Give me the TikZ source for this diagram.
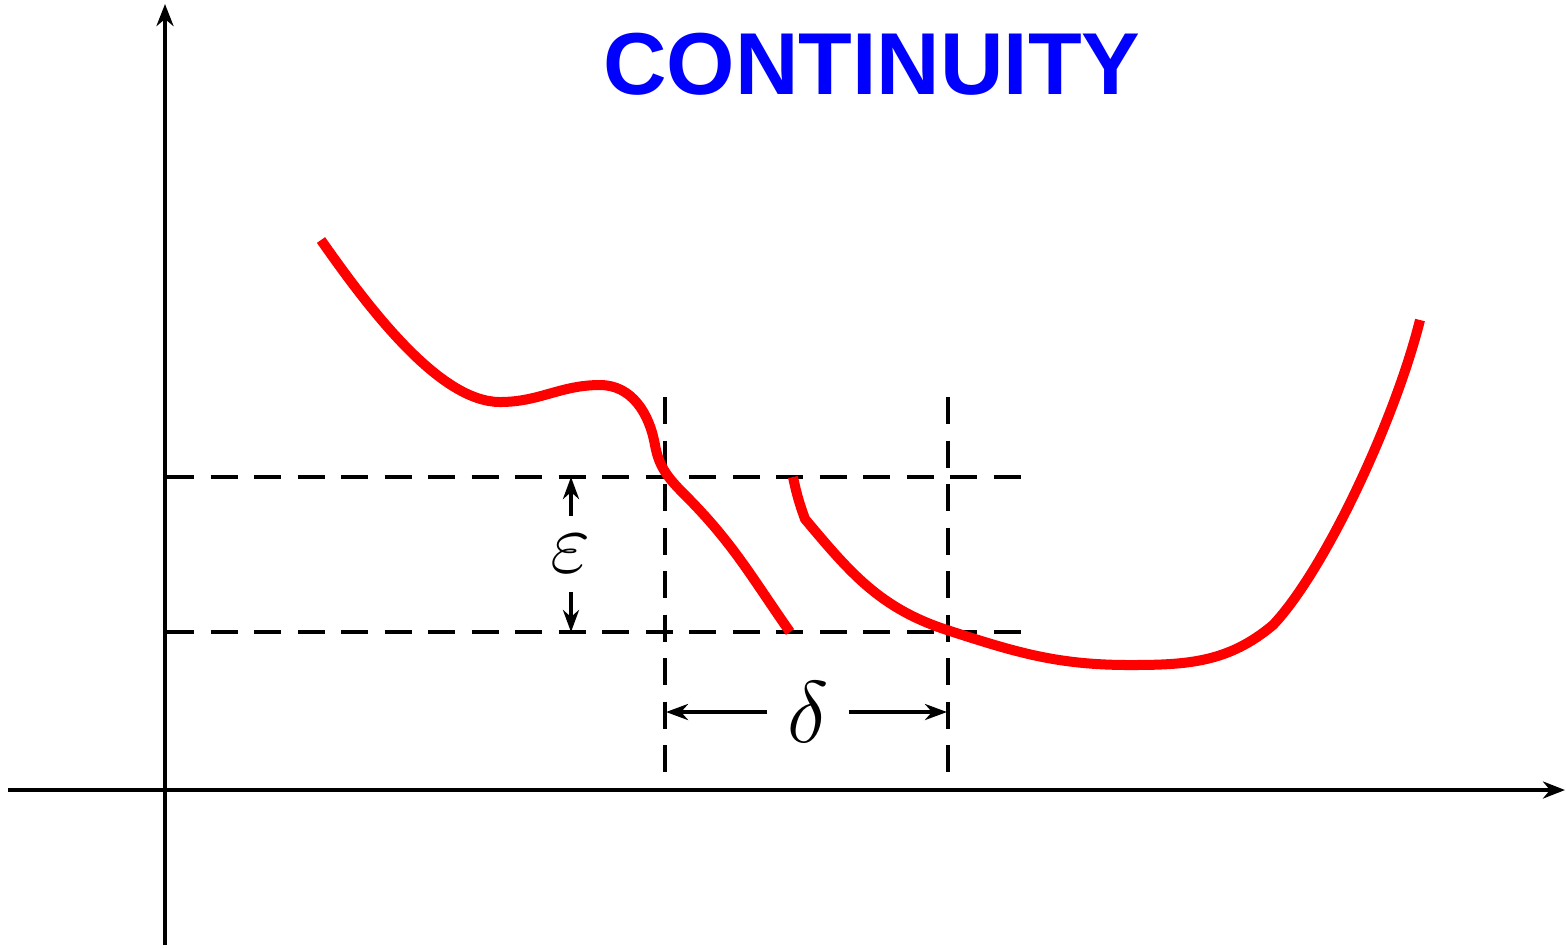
\documentclass[tikz,border=0pt]{standalone}
\usepackage{fontspec}
\newfontfamily\titlefont{Liberation Sans}
\usetikzlibrary{arrows.meta}
\tikzset{
  axis/.style={line width=0.038cm, -{Stealth[length=0.22cm,width=0.17cm,inset=0.07cm]}},
  dimarrow/.style={line width=0.038cm, -{Stealth[length=0.22cm,width=0.16cm,inset=0.07cm]}},
  guide/.style={line width=0.038cm, dash pattern=on 0.27cm off 0.165cm},
  curve/.style={red, line width=0.1cm, line cap=butt, line join=round},
  mathlabel/.style={inner sep=0pt, font=\fontsize{26}{30}\selectfont},
  titlelabel/.style={inner sep=0pt, anchor=base, text=blue, font=\titlefont\bfseries\fontsize{25}{30}\selectfont}
}
\begin{document}
\begin{tikzpicture}[x=0.01cm,y=-0.01cm]
\useasboundingbox (0,0) rectangle (1566,947);
% axes
\coordinate (yb) at (165,945);
\coordinate (yt) at (165,4);
\coordinate (xl) at (8,790);
\coordinate (xr) at (1565,790);
\draw[axis] (yb) -- (yt);
\draw[axis] (xl) -- (xr);
% guides
\coordinate (h1a) at (167,477); \coordinate (h1b) at (1028,477);
\coordinate (h2a) at (167,632); \coordinate (h2b) at (1028,632);
\coordinate (v1a) at (665,397); \coordinate (v1b) at (665,790);
\coordinate (v2a) at (948,397); \coordinate (v2b) at (948,790);
\draw[guide] (h1a) -- (h1b);
\draw[guide] (h2a) -- (h2b);
\draw[guide] (v1a) -- (v1b);
\draw[guide] (v2a) -- (v2b);
% title
\node[titlelabel] (title) at (872,94) {CONTINUITY};
% epsilon
\node[mathlabel, minimum height=0.75cm] (eps) at (571,554) {$\varepsilon$};
\coordinate (epsTop) at (571,477);
\coordinate (epsBot) at (571,632);
\draw[dimarrow] (eps.north) -- (epsTop);
\draw[dimarrow] (eps.south) -- (epsBot);
% delta
\node[mathlabel, minimum width=0.8cm] (del) at (808,712) {$\delta$};
\coordinate (delL) at (666,712);
\coordinate (delR) at (947,712);
\draw[dimarrow] (del.west) -- (delL);
\draw[dimarrow] (del.east) -- (delR);
% curves
\draw[curve] (321,240) .. controls (370,310) and (440,402) .. (500,402)
  to[out=0,in=180] (600,385) to[out=0,in=100] (655,445)
  to[out=-80,in=135] (685,495) to[out=-45,in=125] (790,632);
\draw[curve] (793,477) to[out=-78,in=110] (805,519) to[out=-50,in=162] (947,630)
  to[out=-18,in=180] (1130,665) to[out=0,in=220] (1273,625)
  .. controls (1325,570) and (1395,420) .. (1420,320);
\end{tikzpicture}
\end{document}
